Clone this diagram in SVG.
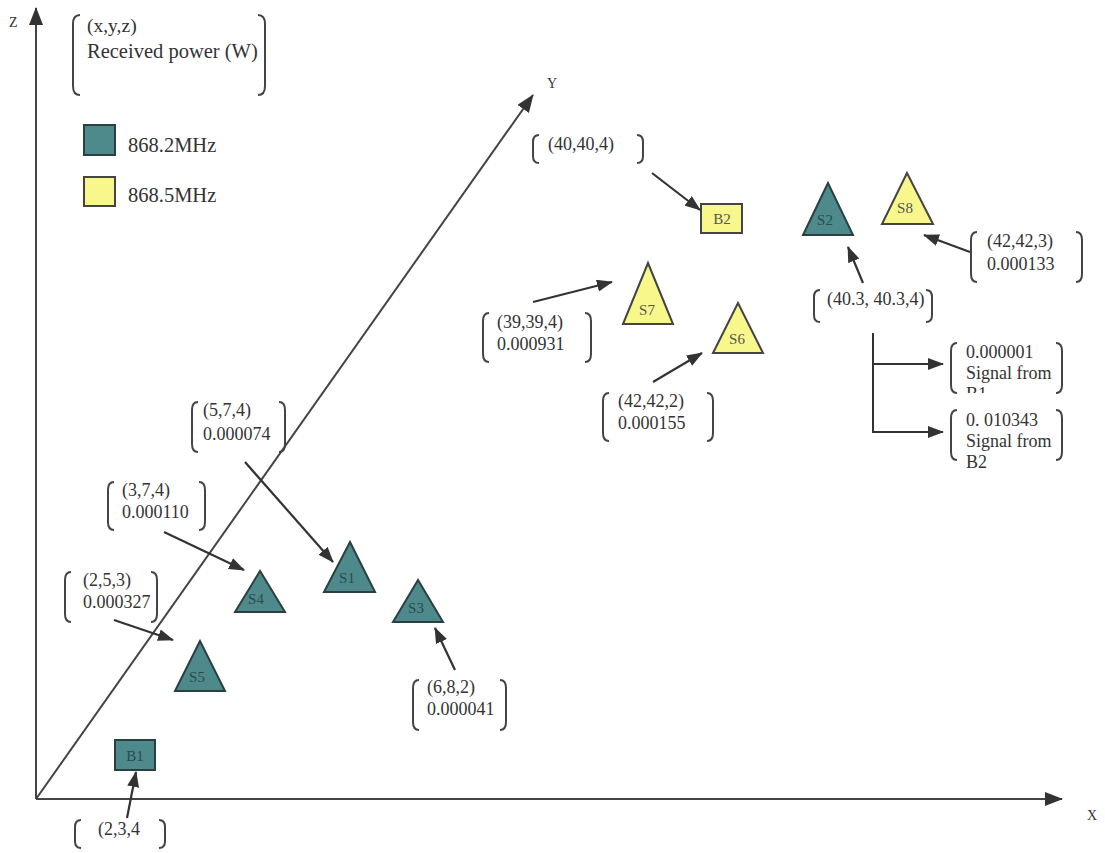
<svg xmlns="http://www.w3.org/2000/svg" width="1105" height="853" viewBox="0 0 1105 853">
<defs>
<marker id="ah" viewBox="0 0 16 12" refX="15" refY="6" markerWidth="16" markerHeight="12" markerUnits="userSpaceOnUse" orient="auto"><path d="M0,0 L16,6 L0,12 Z" fill="#333"/></marker>
<marker id="ax" viewBox="0 0 18 14" refX="17" refY="7" markerWidth="18" markerHeight="14" markerUnits="userSpaceOnUse" orient="auto"><path d="M0,0 L18,7 L0,14 Z" fill="#333"/></marker>
<clipPath id="c1"><rect x="950" y="340" width="120" height="53"/></clipPath>
</defs>
<style>
text{font-family:"Liberation Serif","Times New Roman",serif;fill:#333;}
.t{font-size:18px;}
.lg{font-size:20.5px;}
.n{font-size:15px;fill:#2b4a4a;}
.ny{font-size:15px;fill:#555;}
.br{fill:none;stroke:#444;stroke-width:2;}
.teal{fill:#4e8a8c;stroke:#2c3f40;stroke-width:2;}
.yel{fill:#f7f78c;stroke:#444;stroke-width:2;}
.ln{stroke:#333;stroke-width:2;fill:none;}
.ar{stroke:#333;stroke-width:2.2;fill:none;marker-end:url(#ah);}
.axis{stroke:#444;stroke-width:2;fill:none;marker-end:url(#ax);}
</style>
<rect width="1105" height="853" fill="#fff"/>
<g id="axes">
<line class="axis" x1="36" y1="799" x2="36" y2="8"/>
<line class="axis" x1="36" y1="799" x2="1062" y2="799"/>
<line class="axis" x1="36" y1="799" x2="533" y2="95"/>
<text x="9" y="27" style="font-size:14px">Z</text>
<text x="547" y="88" style="font-size:14px">Y</text>
<text x="1087" y="820" style="font-size:14px">X</text>
</g>
<g id="legend">
<path class="br" d="M80,15 Q73,15 73,24 L73,86 Q73,95 80,95"/>
<path class="br" d="M258,15 Q265,15 265,24 L265,86 Q265,95 258,95"/>
<text x="87" y="32" style="font-size:19.5px">(x,y,z)</text>
<text class="lg" x="87" y="58">Received power (W)</text>
<rect class="teal" x="84" y="125" width="31" height="30"/>
<text class="lg" x="128" y="152">868.2MHz</text>
<rect class="yel" x="84" y="177" width="31" height="29"/>
<text class="lg" x="128" y="202">868.5MHz</text>
</g>
<g id="B1"><rect class="teal" x="115" y="740" width="40" height="30"/><text class="n" x="135" y="761" text-anchor="middle">B1</text></g>
<g id="B2"><rect class="yel" x="701" y="204" width="41" height="29"/><text class="ny" x="722" y="224" text-anchor="middle">B2</text></g>
<g id="S1"><polygon class="teal" points="350,542 324,592 375,592"/><text class="n" x="347" y="583" text-anchor="middle">S1</text></g>
<g id="S2"><polygon class="teal" points="828,183 803,235 853,235"/><text class="n" x="825" y="225" text-anchor="middle">S2</text></g>
<g id="S3"><polygon class="teal" points="418,580 393,622 443,622"/><text class="n" x="416" y="613" text-anchor="middle">S3</text></g>
<g id="S4"><polygon class="teal" points="260,571 235,612 285,612"/><text class="n" x="256" y="604" text-anchor="middle">S4</text></g>
<g id="S5"><polygon class="teal" points="200,641 175,691 225,691"/><text class="n" x="197" y="682" text-anchor="middle">S5</text></g>
<g id="S6"><polygon class="yel" points="738,303 713,353 763,353"/><text class="ny" x="737" y="344" text-anchor="middle">S6</text></g>
<g id="S7"><polygon class="yel" points="648,263 623,324 673,324"/><text class="ny" x="647" y="315" text-anchor="middle">S7</text></g>
<g id="S8"><polygon class="yel" points="907,173 882,224 933,224"/><text class="ny" x="905" y="213" text-anchor="middle">S8</text></g>
<g id="L-40-40-4">
<path class="br" d="M539,135 Q533,135 533,142 L533,156 Q533,163 539,163"/>
<path class="br" d="M637,135 Q643,135 643,142 L643,156 Q643,163 637,163"/>
<text class="t" x="548" y="150">(40,40,4)</text>
</g>
<g id="L-42-42-3">
<path class="br" d="M977,232 Q971,232 971,240 L971,274 Q971,282 977,282"/>
<path class="br" d="M1076,232 Q1082,232 1082,240 L1082,274 Q1082,282 1076,282"/>
<text class="t" x="987" y="247">(42,42,3)</text>
<text class="t" x="987" y="270">0.000133</text>
</g>
<g id="L-40.3">
<path class="br" d="M820,290 Q814,290 814,297 L814,315 Q814,322 820,322"/>
<path class="br" d="M926,290 Q932,290 932,297 L932,315 Q932,322 926,322"/>
<text class="t" x="827" y="305">(40.3, 40.3,4)</text>
</g>
<g id="L-signal-B1">
<path class="br" d="M957,343 Q951,343 951,351 L951,385 Q951,393 957,393"/>
<path class="br" d="M1056,343 Q1062,343 1062,351 L1062,385 Q1062,393 1056,393"/>
<text class="t" x="966" y="358">0.000001</text>
<text class="t" x="966" y="379">Signal from</text>
<text class="t" x="966" y="400" clip-path="url(#c1)">B1</text>
</g>
<g id="L-signal-B2">
<path class="br" d="M957,410 Q951,410 951,418 L951,452 Q951,460 957,460"/>
<path class="br" d="M1056,410 Q1062,410 1062,418 L1062,452 Q1062,460 1056,460"/>
<text class="t" x="966" y="426">0. 010343</text>
<text class="t" x="966" y="447">Signal from</text>
<text class="t" x="966" y="468">B2</text>
</g>
<g id="L-39-39-4">
<path class="br" d="M489,313 Q483,313 483,321 L483,354 Q483,362 489,362"/>
<path class="br" d="M585,313 Q591,313 591,321 L591,354 Q591,362 585,362"/>
<text class="t" x="497" y="328">(39,39,4)</text>
<text class="t" x="497" y="350">0.000931</text>
</g>
<g id="L-42-42-2">
<path class="br" d="M609,393 Q603,393 603,401 L603,433 Q603,441 609,441"/>
<path class="br" d="M707,393 Q713,393 713,401 L713,433 Q713,441 707,441"/>
<text class="t" x="618" y="407">(42,42,2)</text>
<text class="t" x="618" y="429">0.000155</text>
</g>
<g id="L-5-7-4">
<path class="br" d="M198,402 Q192,402 192,410 L192,444 Q192,452 198,452"/>
<path class="br" d="M279,402 Q285,402 285,410 L285,444 Q285,452 279,452"/>
<text class="t" x="203" y="416">(5,7,4)</text>
<text class="t" x="203" y="440">0.000074</text>
</g>
<g id="L-3-7-4">
<path class="br" d="M114,482 Q108,482 108,490 L108,522 Q108,530 114,530"/>
<path class="br" d="M199,482 Q205,482 205,490 L205,522 Q205,530 199,530"/>
<text class="t" x="122" y="496">(3,7,4)</text>
<text class="t" x="122" y="518">0.000110</text>
</g>
<g id="L-2-5-3">
<path class="br" d="M71,572 Q65,572 65,580 L65,614 Q65,622 71,622"/>
<path class="br" d="M151,572 Q157,572 157,580 L157,614 Q157,622 151,622"/>
<text class="t" x="83" y="586">(2,5,3)</text>
<text class="t" x="83" y="608">0.000327</text>
</g>
<g id="L-6-8-2">
<path class="br" d="M419,680 Q413,680 413,688 L413,722 Q413,730 419,730"/>
<path class="br" d="M500,680 Q506,680 506,688 L506,722 Q506,730 500,730"/>
<text class="t" x="427" y="693">(6,8,2)</text>
<text class="t" x="427" y="715">0.000041</text>
</g>
<g id="L-2-3-4">
<path class="br" d="M81,820 Q75,820 75,827 L75,841 Q75,848 81,848"/>
<path class="br" d="M159,820 Q165,820 165,827 L165,841 Q165,848 159,848"/>
<text class="t" x="98" y="835">(2,3,4</text>
</g>
<g id="connectors">
<line class="ar" x1="652" y1="173" x2="700" y2="210"/>
<line class="ar" x1="970" y1="252" x2="924" y2="235"/>
<line class="ar" x1="863" y1="283" x2="848" y2="247"/>
<line class="ln" x1="873" y1="333" x2="873" y2="433"/>
<line class="ar" x1="873" y1="364" x2="943" y2="364"/>
<line class="ar" x1="873" y1="432" x2="943" y2="432"/>
<line class="ar" x1="533" y1="302" x2="612" y2="282"/>
<line class="ar" x1="653" y1="382" x2="702" y2="353"/>
<line class="ar" x1="245" y1="462" x2="333" y2="562"/>
<line class="ar" x1="164" y1="532" x2="244" y2="570"/>
<line class="ar" x1="114" y1="620" x2="173" y2="640"/>
<line class="ar" x1="455" y1="670" x2="435" y2="628"/>
<line class="ar" x1="127" y1="818" x2="136" y2="772"/>
</g>
</svg>
